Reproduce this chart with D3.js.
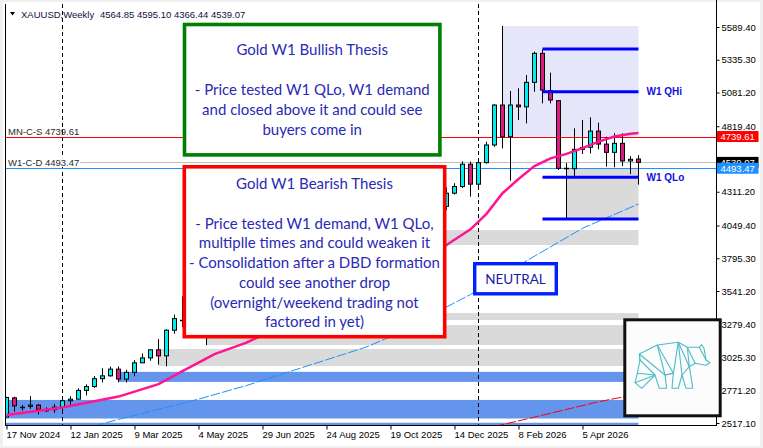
<!DOCTYPE html>
<html><head><meta charset="utf-8">
<script src="https://cdn.jsdelivr.net/npm/d3@7"></script>
<style>
html,body{margin:0;padding:0;background:#f0f0f0;}
svg{display:block;}
</style></head><body>
<svg id="c" width="763" height="448"></svg>
<script>
// ---------------- DATA ----------------
const symbol = "XAUUSD,Weekly";
const dates = ["2024-11-17","2024-11-24","2024-12-01","2024-12-08","2024-12-15","2024-12-22","2024-12-29",
"2025-01-05","2025-01-12","2025-01-19","2025-01-26","2025-02-02","2025-02-09","2025-02-16","2025-02-23",
"2025-03-02","2025-03-09","2025-03-16","2025-03-23","2025-03-30","2025-04-06","2025-04-13","2025-04-20","2025-04-27",
"2025-05-04","2025-05-11","2025-05-18","2025-05-25","2025-06-01","2025-06-08","2025-06-15","2025-06-22","2025-06-29",
"2025-07-06","2025-07-13","2025-07-20","2025-07-27","2025-08-03","2025-08-10","2025-08-17","2025-08-24","2025-08-31",
"2025-09-07","2025-09-14","2025-09-21","2025-09-28","2025-10-05","2025-10-12","2025-10-19","2025-10-26",
"2025-11-02","2025-11-09","2025-11-16","2025-11-23","2025-11-30","2025-12-07","2025-12-14","2025-12-21","2025-12-28",
"2026-01-04","2026-01-11","2026-01-18","2026-01-25","2026-02-01","2026-02-08","2026-02-15","2026-02-22",
"2026-03-01","2026-03-08","2026-03-15","2026-03-22","2026-03-29","2026-04-05","2026-04-12","2026-04-19","2026-04-26",
"2026-05-03","2026-05-10","2026-05-17","2026-05-24"];
const open  = [2563,2712,2650,2646,2656,2623,2621,2640,2690,2702,2770,2800,2861,2883,2935,2858,2910,2984,3022,3085,
3038,3237,3327,3319,3241,3230,3187,3358,3289,3310,3433,3368,3274,3337,3355,3350,3337,3363,3398,3336,
3372,3448,3587,3643,3685,3760,3886,4018,4251,4113,4002,4000,4085,4065,4240,4198,4300,4352,4525,4370,
4537,4674,4984,4738,4984,4970,5160,5385,5095,5018,4490,4490,4640,4656,4782,4681,4617,4687,4550,4564.85];
const high  = [2721,2721,2657,2726,2664,2638,2665,2697,2726,2786,2817,2882,2942,2954,2956,2930,3005,3057,3086,3168,
3245,3358,3500,3367,3435,3252,3366,3366,3403,3446,3452,3398,3365,3375,3377,3439,3363,3409,3404,3379,
3453,3600,3675,3707,3791,3896,4059,4379,4381,4113,4030,4245,4132,4264,4264,4345,4377,4548,4545,4550,
4699,4990,5597,5093,5114,5217,5398,5416,5235,5018,4534,4803,4868,4889,4847,4738,4765,4765,4588,4595.10];
const low   = [2563,2605,2613,2627,2583,2602,2596,2614,2656,2701,2731,2790,2832,2877,2833,2832,2880,2982,3000,2970,
2957,3210,3260,3202,3228,3121,3186,3245,3286,3293,3340,3255,3247,3283,3309,3325,3268,3348,3331,3311,
3351,3436,3579,3627,3684,3760,3884,4000,4004,3886,3930,3997,4022,4040,4160,4170,4290,4340,4273,4356,
4530,4660,4648,4397,4868,4842,5087,4997,4997,4480,4097,4415,4604,4609,4640,4506,4501,4511,4449,4366.44];
const close = [2715,2650,2643,2656,2623,2621,2640,2690,2702,2770,2800,2861,2883,2935,2858,2910,2984,3022,3085,3038,
3237,3327,3319,3241,3325,3187,3358,3289,3310,3433,3368,3274,3337,3355,3350,3337,3363,3398,3336,3372,
3448,3587,3643,3685,3760,3886,4018,4251,4113,4002,4000,4085,4065,4240,4198,4300,4352,4525,4370,4537,
4674,4984,4738,4984,4970,5160,5385,5100,5023,4493,4495,4640,4655,4782,4681,4617,4687,4550,4563,4539.07];

const yTickValues = [5589.40,5335.30,5081.20,4819.40,4311.20,4049.40,3795.30,3541.20,3279.40,3025.30,2771.20,2517.10];
const xTickIdx    = [0,8,16,24,32,40,48,56,64,72];
const xTickLabels = ["17 Nov 2024","12 Jan 2025","9 Mar 2025","4 May 2025","29 Jun 2025","24 Aug 2025","19 Oct 2025","14 Dec 2025","8 Feb 2026","5 Apr 2026"];

// moving averages (bar index, value)
const pinkMaIdx = [0,7,14,19,22,26,30,55,58,60,62,64,66,68,70,72,74,76,78,79];
const pinkMaVal = [2579,2637,2722,2818,2920,3052,3140,3898,4020,4140,4300,4410,4510,4570,4605,4650,4700,4740,4762,4767];
const blueMaIdx = [11,14,24,30,35,45,48,55,58,65,72,79];
const blueMaVal = [2495,2545,2702,2808,2908,3107,3187,3417,3514,3775,4028,4216];
const redMaIdx  = [61,65,74,79];
const redMaVal  = [2490,2548,2682,2742];

// levels
const levelNames  = ["MN-C-S","W1-C-D"];
const levelPrices = [4739.61,4493.47];
const bidPrice = 4539.07;

// zones: start bar, top price, bottom price, kind
const zoneStart = [49,35,25,19,14,0,0];
const zoneTop   = [4014,3370,3277,3091,2914,2696,2519];
const zoneBot   = [3898,3316,3122,2959,2836,2552,2470];
const zoneKind  = ["gray","gray","gray","gray","blue","blue","blue"];

// W1 quarter structure
const qhiBox = {start:62, end:79, top:5597, bottom:4739.61};
const qloBox = {start:70, end:79, top:4493.47, bottom:4097};
const qLineStart = 67, qLineEnd = 79;
const qLinePrices = [5418.6,5087.4,4423.2,4099.7];
const qLineLabels = ["","W1 QHi","W1 QLo",""];

const bullLines = ["Gold W1 Bullish Thesis","","- Price tested W1 QLo, W1 demand","and closed above it and could see","buyers come in"];
const bearLines = ["Gold W1 Bearish Thesis","","- Price tested W1 demand, W1 QLo,","multiplle times and could weaken it","- Consolidation after a DBD formation","could see another drop","(overnight/weekend trading not","factored in yet)"];
const neutralText = "NEUTRAL";

// ---------------- DRAW ----------------
const svg = d3.select("#c");
const PL=5, PR=716, PT=4, PB=425;
const x = d3.scaleLinear().domain([0,79]).range([6.5, 638.5]);
const y = d3.scaleLinear().domain([2517.1, 5589.4]).range([423, 27]);

svg.append("rect").attr("x",3).attr("y",2).attr("width",757).attr("height",444).attr("fill","#fff");

svg.append("defs").append("clipPath").attr("id","plot")
  .append("rect").attr("x",PL).attr("y",PT).attr("width",PR-PL).attr("height",PB-PT);
const g = svg.append("g").attr("clip-path","url(#plot)");

// zones
g.selectAll("rect.zone").data(zoneStart).join("rect").attr("class","zone")
  .attr("x",(d,i)=> i>=5 ? PL : x(d))
  .attr("y",(d,i)=>y(zoneTop[i]))
  .attr("width",(d,i)=>x(79)-(i>=5?PL:x(d)))
  .attr("height",(d,i)=>y(zoneBot[i])-y(zoneTop[i]))
  .attr("fill",(d,i)=>zoneKind[i]==="gray"?"#dadada":"#6495ed");

// QHi / QLo boxes
g.append("rect").attr("x",x(qhiBox.start)).attr("y",y(qhiBox.top))
  .attr("width",x(qhiBox.end)-x(qhiBox.start)).attr("height",y(qhiBox.bottom)-y(qhiBox.top)).attr("fill","#e6e6fa");
g.append("rect").attr("x",x(qloBox.start)).attr("y",y(qloBox.top))
  .attr("width",x(qloBox.end)-x(qloBox.start)).attr("height",y(qloBox.bottom)-y(qloBox.top)).attr("fill","#dadada");

// year separators
const sepIdx = dates.map((d,i)=>i).filter(i=>i>0 && dates[i].slice(0,4)!==dates[i-1].slice(0,4));
g.selectAll("line.sep").data(sepIdx).join("line").attr("class","sep")
  .attr("x1",d=>x(d)).attr("x2",d=>x(d)).attr("y1",PT).attr("y2",PB)
  .attr("stroke","#000").attr("stroke-width",1).attr("stroke-dasharray","4,3");

// horizontal levels
g.append("line").attr("x1",PL).attr("x2",PR).attr("y1",Math.round(y(bidPrice))+0.5).attr("y2",Math.round(y(bidPrice))+0.5)
  .attr("stroke","#c0c0c0").attr("stroke-width",1);
const levelColors = ["#ff0000","#1e90ff"];
g.selectAll("line.lvl").data(levelPrices).join("line").attr("class","lvl")
  .attr("x1",PL).attr("x2",PR).attr("y1",d=>Math.round(y(d))+0.5).attr("y2",d=>Math.round(y(d))+0.5)
  .attr("stroke",(d,i)=>levelColors[i]).attr("stroke-width",1);

// MAs
const line = d3.line().x(d=>x(d[0])).y(d=>y(d[1]));
g.append("path").datum(blueMaIdx.map((d,i)=>[d,blueMaVal[i]])).attr("d",line)
  .attr("fill","none").attr("stroke","#1e90ff").attr("stroke-width",1).attr("stroke-dasharray","10,2");
g.append("path").datum(redMaIdx.map((d,i)=>[d,redMaVal[i]])).attr("d",line)
  .attr("fill","none").attr("stroke","#ff0000").attr("stroke-width",1).attr("stroke-dasharray","10,2");

// candles
const idx = d3.range(dates.length);
const cg = g.append("g");
cg.selectAll("line.wick").data(idx).join("line").attr("class","wick")
  .attr("x1",i=>x(i)).attr("x2",i=>x(i)).attr("y1",i=>y(high[i])).attr("y2",i=>y(low[i]))
  .attr("stroke","#000").attr("stroke-width",1);
cg.selectAll("rect.body").data(idx.filter(i=>Math.abs(y(open[i])-y(close[i]))>=1.2)).join("rect").attr("class","body")
  .attr("x",i=>x(i)-2).attr("width",4)
  .attr("y",i=>Math.min(y(open[i]),y(close[i])))
  .attr("height",i=>Math.abs(y(open[i])-y(close[i])))
  .attr("fill",i=>close[i]>=open[i]?"#00f0f0":"#dc1a80")
  .attr("stroke","#000").attr("stroke-width",1);
cg.selectAll("line.doji").data(idx.filter(i=>Math.abs(y(open[i])-y(close[i]))<1.2)).join("line").attr("class","doji")
  .attr("x1",i=>x(i)-2.5).attr("x2",i=>x(i)+2.5)
  .attr("y1",i=>Math.round(y(close[i]))+0.5).attr("y2",i=>Math.round(y(close[i]))+0.5)
  .attr("stroke","#000").attr("stroke-width",1.5);

g.append("path").datum(pinkMaIdx.map((d,i)=>[d,pinkMaVal[i]])).attr("d",line)
  .attr("fill","none").attr("stroke","#ff1493").attr("stroke-width",2.5);

// quarter lines
g.selectAll("line.q").data(qLinePrices).join("line").attr("class","q")
  .attr("x1",x(qLineStart)).attr("x2",x(qLineEnd)).attr("y1",d=>y(d)).attr("y2",d=>y(d))
  .attr("stroke","#0000ff").attr("stroke-width",3);
g.selectAll("text.q").data(qLinePrices).join("text").attr("class","q")
  .attr("x",x(qLineEnd)+8).attr("y",d=>y(d)).attr("dominant-baseline","central")
  .attr("font-family","Liberation Sans, Arial, sans-serif").attr("font-weight","bold").attr("font-size",10)
  .attr("fill","#1010e0").text((d,i)=>qLineLabels[i]);

// level labels (left)
const lblFont = "Liberation Sans, Arial, sans-serif";
levelPrices.forEach((p,i)=>{
  const t = svg.append("text").attr("x",8).attr("y",Math.round(y(p))-2)
    .attr("font-family",lblFont).attr("font-size",9.5).attr("fill","#2a2a2a")
    .text(levelNames[i]+" "+p.toFixed(2));
  if(i===1){
    const bb = t.node().getBBox();
    svg.insert("rect", () => t.node()).attr("x",6).attr("y",bb.y+1).attr("width",bb.x+bb.width-6+1).attr("height",bb.height-2).attr("fill","#fff");
  }
});

// annotation boxes
const boxFont = "Lato, 'Open Sans', sans-serif";
function textBox(x0,y0,x1,y1,sw,color,lines,ty0,lh,fs,tcol){
  svg.append("rect").attr("x",x0+sw/2).attr("y",y0+sw/2).attr("width",x1-x0-sw).attr("height",y1-y0-sw)
    .attr("fill","#fff").attr("stroke",color).attr("stroke-width",sw);
  svg.selectAll(null).data(lines).join("text")
    .attr("x",(x0+x1)/2).attr("y",(d,i)=>ty0+i*lh).attr("text-anchor","middle").attr("dominant-baseline","central")
    .attr("font-family",boxFont).attr("font-size",fs).attr("fill",tcol).text(d=>d);
}
textBox(182.7,22.7,441.7,156.7,3.6,"#008000",bullLines,49,20.1,15,"#2a2ab4");
textBox(182.5,165,446.5,338.5,3.6,"#ff0000",bearLines,183.3,19.7,15,"#2a2ab4");
textBox(473,262,558,295.5,3.4,"#0022ff",[neutralText],278.5,18,13.5,"#1a1aa8");

// axes
svg.append("line").attr("x1",PL+0.5).attr("x2",PL+0.5).attr("y1",PT).attr("y2",PB).attr("stroke","#000");
svg.append("line").attr("x1",PR+0.5).attr("x2",PR+0.5).attr("y1",0).attr("y2",PB+0.5).attr("stroke","#000");
svg.append("line").attr("x1",PL).attr("x2",PR+1).attr("y1",PB+0.5).attr("y2",PB+0.5).attr("stroke","#000");

const ya = svg.append("g").attr("transform",`translate(${PR+0.5},0)`)
  .call(d3.axisRight(y).tickValues(yTickValues).tickFormat(d=>d.toFixed(2)).tickSize(3).tickPadding(2));
ya.select(".domain").remove();
ya.selectAll("text").attr("font-family",lblFont).attr("font-size",9.5).attr("fill","#000");
ya.selectAll("line").attr("stroke","#000");

const xa = svg.append("g").attr("transform",`translate(0,${PB+0.5})`)
  .call(d3.axisBottom(x).tickValues(xTickIdx).tickFormat((d,i)=>xTickLabels[i]).tickSize(4));
xa.select(".domain").remove();
xa.selectAll("text").attr("font-family",lblFont).attr("font-size",9.5).attr("fill","#000")
  .attr("text-anchor","start").attr("x",-0.5).attr("y",12.5).attr("dy",0);
xa.selectAll("line").attr("stroke","#000");

// price tags on axis
const tagPrices = [levelPrices[0], bidPrice, levelPrices[1]];
const tagColors = ["#ff0000","#000000","#1e90ff"];
tagPrices.forEach((p,i)=>{
  const cy = y(p);
  svg.append("rect").attr("x",PR+1).attr("y",cy-5.5).attr("width",41.5).attr("height",11).attr("fill",tagColors[i]);
  svg.append("text").attr("x",PR+4.5).attr("y",cy+3.5).attr("font-family",lblFont).attr("font-size",9.5)
    .attr("fill","#fff").text(p.toFixed(2));
});

// header
svg.append("path").attr("d","M10,12 L15,12 L12.5,15.5 Z").attr("fill","#000");
svg.append("text").attr("x",21).attr("y",17.5).attr("font-family",lblFont).attr("font-size",9.5).attr("fill","#101040")
  .text(symbol);
const L = dates.length-1;
svg.append("text").attr("x",100).attr("y",17.5).attr("font-family",lblFont).attr("font-size",9.5).attr("fill","#101040")
  .text([open[L],high[L],low[L],close[L]].map(v=>v.toFixed(2)).join(" "));

// logo
svg.append("rect").attr("x",624.8).attr("y",319.8).attr("width",95.4).attr("height",96)
  .attr("fill","#fcfcfc").attr("stroke","#111").attr("stroke-width",3);
const P = {A:[39.3,44],B:[57.3,35],C:[78.3,32.3],D:[87.3,37.3],E:[99.3,37.3],F:[101.7,34.7],G:[104,38.3],
  H:[106,50],I:[110,52.7],J:[106,55.3],K:[95,53.3],L:[89.3,56.7],M:[91,66.7],N:[92.7,78.3],O:[86,78.3],
  Pp:[82,65],Q:[78.3,78.3],Q2:[72,78.3],R:[73.3,63.3],S:[65,65],T:[66.7,78.3],U:[59.3,78.3],V:[55,65],
  W:[41.7,78.3],X:[35,72.7],Y:[37.3,63.3],Z:[40,50]};
const outline = ["A","B","C","D","E","F","G","H","I","J","K","L","M","N","O","Pp","Q","Q2","R","S","T","U","V","W","X","Y","Z","A"];
const inner = [["B","R"],["C","R"],["C","L"],["D","K"],["E","H"],["C","Pp"],["Z","V"],["A","S"],["B","S"],["Y","V"],["L","Pp"],["R","S"],["D","L"],["Z","A"],["X","V"]];
const lg = svg.append("g").attr("transform","translate(600,310)").attr("fill","none").attr("stroke","#4cbcc8").attr("stroke-width",1.1).attr("stroke-linejoin","round");
lg.append("path").attr("d",d3.line()(outline.map(k=>P[k])));
inner.forEach(([a,b])=>lg.append("line").attr("x1",P[a][0]).attr("y1",P[a][1]).attr("x2",P[b][0]).attr("y2",P[b][1]));
</script>
</body></html>
